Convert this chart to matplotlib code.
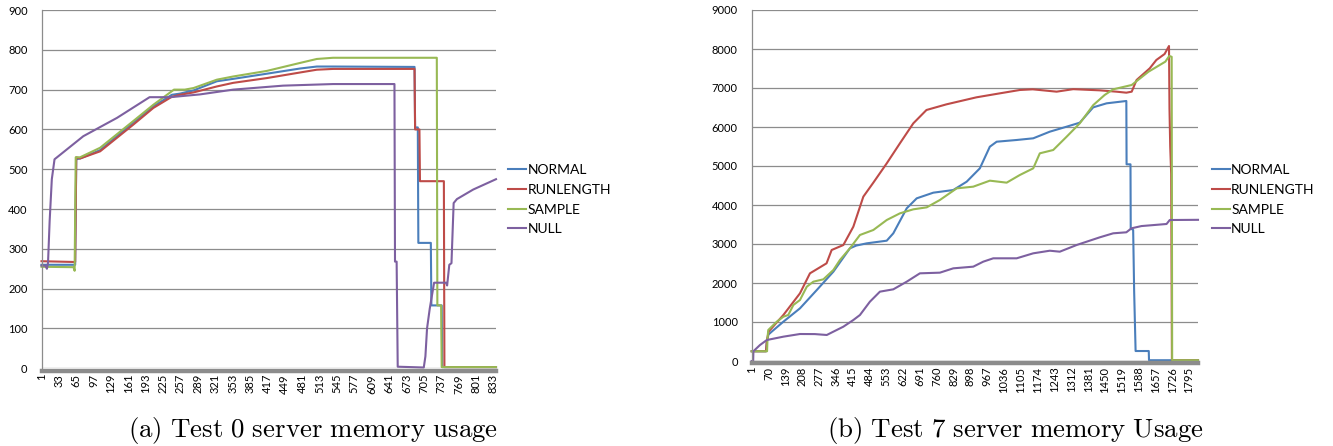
import matplotlib.pyplot as plt

plt.rcParams['font.family'] = ['Lato', 'DejaVu Sans']
plt.rcParams['mathtext.fontset'] = 'cm'

series_names = ['NORMAL', 'RUNLENGTH', 'SAMPLE', 'NULL']
colors = ['#4A7EBB', '#BE4B48', '#98B954', '#7D60A0']

# ---- Test 0 (index, memory) breakpoints
t0_normal_x = [1, 63, 65, 72, 109, 170, 207, 241, 256, 281, 324, 354, 416, 477, 508, 538, 688, 689, 694, 695, 718, 719, 738, 739, 838]
t0_normal_y = [260, 260, 525, 527, 548, 617, 658, 687, 690, 698, 721, 727, 740, 753, 758, 758, 757, 605, 605, 315, 315, 158, 158, 3, 3]
t0_run_x = [1, 63, 65, 72, 109, 170, 207, 241, 256, 281, 324, 354, 416, 477, 508, 538, 688, 689, 697, 698, 742, 743, 838]
t0_run_y = [269, 267, 530, 527, 545, 612, 654, 682, 687, 693, 708, 717, 729, 743, 750, 752, 752, 600, 600, 470, 470, 3, 3]
t0_sample_x = [1, 60, 62, 64, 72, 109, 170, 207, 241, 245, 265, 281, 324, 354, 416, 477, 508, 538, 729, 730, 737, 738, 838]
t0_sample_y = [255, 254, 245, 530, 530, 554, 621, 662, 696, 700, 700, 704, 725, 733, 747, 767, 777, 780, 780, 158, 158, 3, 3]
t0_null_x = [1, 8, 11, 13, 16, 20, 25, 78, 140, 200, 238, 293, 354, 446, 538, 651, 652, 655, 657, 705, 708, 711, 716, 724, 746, 748, 752, 756, 760, 766, 796, 838]
t0_null_y = [258, 258, 250, 265, 370, 475, 525, 583, 629, 681, 681, 688, 700, 710, 714, 714, 268, 268, 4, 2, 30, 100, 150, 215, 215, 208, 260, 264, 415, 425, 449, 475]

# ---- Test 7
t7_normal_x = [1, 60, 63, 70, 83, 131, 199, 268, 336, 404, 430, 473, 555, 582, 637, 678, 746, 828, 883, 937, 978, 1006, 1088, 1156, 1224, 1293, 1347, 1402, 1457, 1538, 1539, 1555, 1556, 1566, 1570, 1576, 1630, 1631, 1832]
t7_normal_y = [250, 250, 500, 680, 752, 1008, 1350, 1820, 2290, 2890, 2960, 3017, 3085, 3274, 3915, 4171, 4316, 4384, 4598, 4940, 5495, 5623, 5667, 5710, 5880, 6008, 6111, 6504, 6607, 6667, 5043, 5043, 3400, 3360, 1800, 256, 256, 20, 20]
t7_run_x = [1, 60, 63, 70, 131, 199, 240, 308, 329, 377, 418, 459, 500, 555, 609, 664, 718, 800, 923, 1019, 1101, 1154, 1252, 1320, 1429, 1497, 1538, 1560, 1580, 1634, 1661, 1695, 1713, 1715, 1718, 1722, 1725, 1832]
t7_run_y = [250, 250, 500, 750, 1180, 1735, 2248, 2504, 2846, 2974, 3444, 4214, 4573, 5068, 5581, 6094, 6436, 6581, 6761, 6863, 6949, 6966, 6906, 6970, 6940, 6906, 6880, 6906, 7205, 7504, 7718, 7872, 8077, 6480, 5500, 4800, 20, 20]
t7_sample_x = [1, 64, 66, 69, 104, 131, 151, 172, 199, 227, 254, 295, 336, 363, 404, 445, 500, 555, 609, 664, 719, 773, 842, 910, 978, 1047, 1101, 1156, 1183, 1238, 1293, 1347, 1402, 1449, 1484, 1560, 1629, 1698, 1714, 1724, 1726, 1832]
t7_sample_y = [250, 250, 600, 795, 1008, 1136, 1180, 1436, 1564, 1905, 2034, 2094, 2333, 2590, 2890, 3231, 3359, 3615, 3786, 3889, 3940, 4128, 4427, 4470, 4624, 4573, 4769, 4940, 5325, 5410, 5751, 6094, 6560, 6821, 6966, 7077, 7418, 7675, 7821, 7800, 20, 20]
t7_null_x = [1, 7, 8, 35, 63, 131, 199, 260, 309, 336, 377, 418, 445, 486, 527, 582, 637, 691, 773, 828, 910, 951, 992, 1088, 1156, 1224, 1265, 1334, 1429, 1484, 1538, 1559, 1600, 1703, 1716, 1832]
t7_null_y = [0, 0, 250, 410, 538, 624, 692, 690, 667, 752, 880, 1051, 1179, 1521, 1778, 1838, 2034, 2248, 2265, 2376, 2419, 2547, 2633, 2633, 2761, 2828, 2803, 2974, 3171, 3274, 3300, 3402, 3460, 3513, 3615, 3620]

t0_ticks = list(range(1, 839, 32))
t7_ticks = list(range(1, 1832, 69))

grid_col = '#8c8c8c'

fig = plt.figure(figsize=(13.33, 4.46), dpi=100)


def setup(ax, xmax, ymax, ystep, ticks):
    ax.set_xlim(1, xmax)
    ax.set_ylim(0, ymax)
    ax.set_yticks(range(0, ymax + 1, ystep))
    ax.set_xticks(ticks)
    ax.set_xticklabels([str(t) for t in ticks])
    ax.yaxis.grid(True, color=grid_col, lw=0.9)
    ax.set_axisbelow(True)
    for s in ['top', 'right']:
        ax.spines[s].set_visible(False)
    ax.spines['left'].set_color(grid_col)
    ax.spines['left'].set_linewidth(0.9)
    ax.spines['bottom'].set_color(grid_col)
    ax.spines['bottom'].set_linewidth(3.2)
    ax.spines['bottom'].set_position(('outward', 1.6))
    ax.tick_params(axis='y', length=0, pad=10, labelsize=8)
    ax.tick_params(axis='x', length=0, pad=2.5, labelsize=8, labelrotation=90)


ax1 = fig.add_axes([41.5 / 1333, 1 - 368.3 / 446, (496 - 41.5) / 1333, (368.3 - 10) / 446])
setup(ax1, 838, 900, 100, t0_ticks)
for xs, ys, c, n in [(t0_normal_x, t0_normal_y, colors[0], series_names[0]),
                     (t0_run_x, t0_run_y, colors[1], series_names[1]),
                     (t0_sample_x, t0_sample_y, colors[2], series_names[2]),
                     (t0_null_x, t0_null_y, colors[3], series_names[3])]:
    ax1.plot(xs, ys, color=c, lw=1.5, label=n, clip_on=False)

ax2 = fig.add_axes([751.7 / 1333, 1 - 361 / 446, (1198 - 751.7) / 1333, (361 - 10) / 446])
setup(ax2, 1832, 9000, 1000, t7_ticks)
for xs, ys, c, n in [(t7_normal_x, t7_normal_y, colors[0], series_names[0]),
                     (t7_run_x, t7_run_y, colors[1], series_names[1]),
                     (t7_sample_x, t7_sample_y, colors[2], series_names[2]),
                     (t7_null_x, t7_null_y, colors[3], series_names[3])]:
    ax2.plot(xs, ys, color=c, lw=1.5, label=n, clip_on=False)

for ax, lx in [(ax1, 508), (ax2, 1211.7)]:
    ax.legend(loc='center left', bbox_to_anchor=(lx / 1333, 1 - 199.7 / 446),
              bbox_transform=fig.transFigure, frameon=False, fontsize=10,
              handlelength=1.3, handletextpad=0.1, labelspacing=0.55,
              borderpad=0, borderaxespad=0)

fig.text(313 / 1333, 1 - 431 / 446, r'$\mathrm{(a)\ Test\ 0\ server\ memory\ usage}$',
         fontsize=19.4, ha='center', va='center')
fig.text(1015 / 1333, 1 - 431 / 446, r'$\mathrm{(b)\ Test\ 7\ server\ memory\ Usage}$',
         fontsize=19.4, ha='center', va='center')

fig.savefig('out.png', dpi=100)
